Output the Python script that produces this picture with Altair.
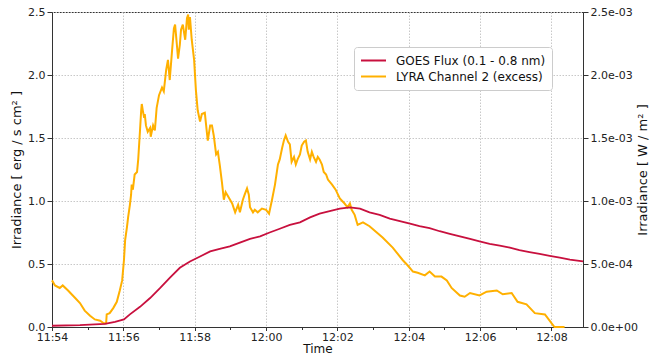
import altair as alt
import pandas as pd

# LYRA channel 2 excess irradiance (erg / s cm^2)
lyra_time = [
    "11:54:00", "11:54:05", "11:54:13", "11:54:18", "11:54:27", "11:54:39", "11:54:47", "11:54:55",
    "11:55:04", "11:55:12", "11:55:21", "11:55:27", "11:55:31", "11:55:32", "11:55:37", "11:55:43",
    "11:55:49", "11:55:54", "11:55:58", "11:56:01", "11:56:03", "11:56:06", "11:56:08", "11:56:11",
    "11:56:13", "11:56:14", "11:56:16", "11:56:19", "11:56:23", "11:56:25", "11:56:28", "11:56:30",
    "11:56:31", "11:56:33", "11:56:35", "11:56:36", "11:56:38", "11:56:41", "11:56:45", "11:56:46",
    "11:56:50", "11:56:53", "11:56:56", "11:57:00", "11:57:05", "11:57:08", "11:57:12", "11:57:15",
    "11:57:18", "11:57:22", "11:57:25", "11:57:27", "11:57:30", "11:57:32", "11:57:35", "11:57:37",
    "11:57:40", "11:57:44", "11:57:47", "11:57:49", "11:57:50", "11:57:52", "11:57:55", "11:57:59",
    "11:58:02", "11:58:05", "11:58:09", "11:58:12", "11:58:17", "11:58:21", "11:58:22", "11:58:26",
    "11:58:29", "11:58:32", "11:58:36", "11:58:39", "11:58:42", "11:58:46", "11:58:49", "11:58:52",
    "11:58:57", "11:59:03", "11:59:08", "11:59:13", "11:59:16", "11:59:21", "11:59:24", "11:59:28",
    "11:59:31", "11:59:33", "11:59:38", "11:59:41", "11:59:46", "11:59:53", "12:00:00", "12:00:05",
    "12:00:10", "12:00:15", "12:00:20", "12:00:23", "12:00:27", "12:00:30", "12:00:33", "12:00:37",
    "12:00:40", "12:00:43", "12:00:47", "12:00:50", "12:00:53", "12:00:57", "12:01:00", "12:01:04",
    "12:01:07", "12:01:10", "12:01:14", "12:01:17", "12:01:20", "12:01:24", "12:01:27", "12:01:30",
    "12:01:34", "12:01:37", "12:01:41", "12:01:44", "12:01:51", "12:01:57", "12:02:04", "12:02:12",
    "12:02:17", "12:02:21", "12:02:24", "12:02:29", "12:02:34", "12:02:43", "12:02:54", "12:03:16",
    "12:03:33", "12:03:50", "12:03:58", "12:04:07", "12:04:15", "12:04:27", "12:04:35", "12:04:44",
    "12:04:55", "12:05:04", "12:05:12", "12:05:26", "12:05:34", "12:05:43", "12:05:59", "12:06:11",
    "12:06:28", "12:06:38", "12:06:53", "12:07:03", "12:07:18", "12:07:32", "12:07:49", "12:08:00",
    "12:08:05", "12:08:14", "12:08:22",
]
lyra_flux = [
    0.37, 0.33, 0.31, 0.33, 0.29, 0.23, 0.19, 0.13,
    0.09, 0.06, 0.05, 0.03, 0.03, 0.10, 0.11, 0.15,
    0.20, 0.29, 0.37, 0.53, 0.69, 0.79, 0.87, 0.97,
    1.05, 1.13, 1.09, 1.21, 1.23, 1.33, 1.56, 1.72,
    1.77, 1.71, 1.66, 1.69, 1.60, 1.55, 1.58, 1.51,
    1.60, 1.56, 1.74, 1.84, 1.90, 1.87, 2.04, 2.12,
    1.96, 2.20, 2.37, 2.40, 2.24, 2.13, 2.24, 2.36,
    2.40, 2.28, 2.45, 2.48, 2.36, 2.46, 2.28, 2.12,
    1.88, 1.72, 1.63, 1.69, 1.70, 1.52, 1.48, 1.60,
    1.60, 1.52, 1.37, 1.39, 1.29, 1.14, 1.01, 1.07,
    1.03, 0.98, 0.91, 0.97, 0.91, 1.01, 1.05, 1.10,
    1.05, 0.95, 0.91, 0.93, 0.91, 0.94, 0.93, 0.90,
    1.01, 1.13, 1.29, 1.33, 1.42, 1.48, 1.52, 1.47,
    1.45, 1.31, 1.35, 1.29, 1.33, 1.37, 1.44, 1.47,
    1.48, 1.39, 1.33, 1.39, 1.35, 1.31, 1.35, 1.33,
    1.29, 1.23, 1.21, 1.17, 1.13, 1.09, 1.02, 0.98,
    0.95, 0.98, 0.93, 0.89, 0.81, 0.83, 0.80, 0.71,
    0.63, 0.53, 0.49, 0.44, 0.43, 0.41, 0.44, 0.40,
    0.40, 0.37, 0.31, 0.25, 0.24, 0.27, 0.25, 0.28,
    0.29, 0.26, 0.27, 0.20, 0.18, 0.11, 0.10, 0.03,
    0.00, 0.00, 0.00,
]

# GOES 0.1 - 0.8 nm flux (W / m^2)
goes_time = [
    "11:54:00", "11:54:47", "11:55:29", "11:55:46", "11:56:01", "11:56:11", "11:56:28", "11:56:45",
    "11:57:02", "11:57:18", "11:57:35", "11:57:52", "11:58:09", "11:58:26", "11:58:42", "11:58:59",
    "11:59:16", "11:59:33", "11:59:50", "12:00:06", "12:00:23", "12:00:40", "12:00:57", "12:01:14",
    "12:01:30", "12:01:47", "12:02:04", "12:02:21", "12:02:38", "12:02:54", "12:03:11", "12:03:28",
    "12:03:45", "12:04:02", "12:04:18", "12:04:35", "12:04:52", "12:05:09", "12:05:26", "12:05:43",
    "12:05:59", "12:06:16", "12:06:33", "12:06:50", "12:07:06", "12:07:23", "12:07:40", "12:07:57",
    "12:08:14", "12:08:31", "12:08:53",
]
goes_flux = [
    1.0e-5, 1.5e-5, 2.5e-5, 4.0e-5, 6.0e-5, 1.0e-4, 1.6e-4, 2.3e-4,
    3.1e-4, 3.9e-4, 4.7e-4, 5.2e-4, 5.6e-4, 6.0e-4, 6.2e-4, 6.4e-4,
    6.7e-4, 7.0e-4, 7.2e-4, 7.5e-4, 7.8e-4, 8.1e-4, 8.3e-4, 8.7e-4,
    9.0e-4, 9.2e-4, 9.4e-4, 9.5e-4, 9.4e-4, 9.1e-4, 8.9e-4, 8.6e-4,
    8.4e-4, 8.2e-4, 8.0e-4, 7.85e-4, 7.6e-4, 7.4e-4, 7.2e-4, 7.0e-4,
    6.8e-4, 6.6e-4, 6.45e-4, 6.3e-4, 6.1e-4, 5.95e-4, 5.8e-4, 5.65e-4,
    5.5e-4, 5.35e-4, 5.2e-4,
]

series_names = ["GOES Flux (0.1 - 0.8 nm)", "LYRA Channel 2 (excess)"]
series_colors = ["#c8103e", "#ffb000"]

left_ticks = [0.0, 0.5, 1.0, 1.5, 2.0, 2.5]
right_ticks = [0.0, 5.0e-4, 1.0e-3, 1.5e-3, 2.0e-3, 2.5e-3]
minute_ticks = list(range(0, 15))

START_MIN = 11 * 60 + 54  # 11:54 is the left edge of the time axis
END_MIN = 14 + 53 / 60    # 12:08:53


def minutes_after_start(t):
    h, m, s = (int(p) for p in t.split(":"))
    return h * 60 + m + s / 60 - START_MIN


lyra = pd.DataFrame({
    "t": [minutes_after_start(t) for t in lyra_time],
    "v": lyra_flux,
    "series": series_names[1],
})
goes = pd.DataFrame({
    "t": [minutes_after_start(t) for t in goes_time],
    "v": goes_flux,
    "series": series_names[0],
})

FONT = "DejaVu Sans"
even = "datum.value % 2 == 0"
GRID = "#c8c8c8"

x_axis = alt.Axis(
    values=minute_ticks,
    labelExpr=(
        f"datum.value % 2 == 0 ? floor(({START_MIN} + datum.value) / 60) + ':' + "
        f"((({START_MIN} + datum.value) % 60) < 10 ? '0' : '') + (({START_MIN} + datum.value) % 60) : ''"
    ),
    title="Time",
    titleFontSize=12,
    titlePadding=1,
    labelPadding=1,
    grid=True,
    gridColor={"condition": {"test": even, "value": GRID}, "value": "rgba(0,0,0,0)"},
    tickSize={"condition": {"test": even, "value": 3.5}, "value": 2.5},
    labelFlush=False,
)
x_scale = alt.Scale(domain=[0, END_MIN], nice=False, zero=False)
x_enc = alt.X("t:Q", scale=x_scale, axis=x_axis)

color = alt.Color(
    "series:N",
    scale=alt.Scale(domain=series_names, range=series_colors),
    legend=alt.Legend(
        title=None,
        orient="none",
        legendX=302,
        legendY=35,
        symbolType="stroke",
        symbolSize=625,
        symbolStrokeWidth=2,
        clipHeight=15,
        labelFontSize=12,
        labelFont=FONT,
        labelColor="#111",
        fillColor="white",
        strokeColor="#cccccc",
        cornerRadius=3,
        padding=6,
        rowPadding=1,
        labelOffset=9,
    ),
)

lyra_line = alt.Chart(lyra).mark_line(strokeWidth=2, interpolate="linear").encode(
    x=x_enc,
    y=alt.Y(
        "v:Q",
        scale=alt.Scale(domain=[0, 2.5], nice=False),
        axis=alt.Axis(
            orient="left",
            values=left_ticks,
            format=".1f",
            title="Irradiance  [ erg / s cm² ]",
            grid=True,
            gridColor=GRID,
        ),
    ),
    color=color,
)

goes_line = alt.Chart(goes).mark_line(strokeWidth=1.8).encode(
    x=x_enc,
    y=alt.Y(
        "v:Q",
        scale=alt.Scale(domain=[0, 2.5e-3], nice=False),
        axis=alt.Axis(
            orient="right",
            values=right_ticks,
            labelExpr=(
                "datum.value == 0 ? '0.0e+00' : (datum.value < 1e-3 ? "
                "format(datum.value * 1e4, '.1f') + 'e-04' : format(datum.value * 1e3, '.1f') + 'e-03')"
            ),
            title="Irradiance  [ W / m² ]",
            titleAngle=270,
            titlePadding=12,
            grid=False,
        ),
    ),
    color=color,
)

chart = (
    alt.layer(lyra_line, goes_line)
    .resolve_scale(y="independent")
    .properties(
        width=531,
        height=315,
        autosize=alt.AutoSizeParams(type="none"),
        padding={"left": 52, "top": 12, "right": 78, "bottom": 30},
        background="white",
    )
    .configure_view(stroke="#333333", strokeWidth=1)
    .configure_axis(
        labelFont=FONT,
        titleFont=FONT,
        labelFontSize=11,
        titleFontSize=13,
        titleFontWeight="normal",
        labelColor="#222222",
        titleColor="#111111",
        domainColor="#333333",
        tickColor="#333333",
        gridDash=[1.5, 1.5],
        gridWidth=1,
        labelPadding=2,
        titlePadding=4,
    )
)

chart.save("out.html", embed_options={"renderer": "svg", "actions": False})
